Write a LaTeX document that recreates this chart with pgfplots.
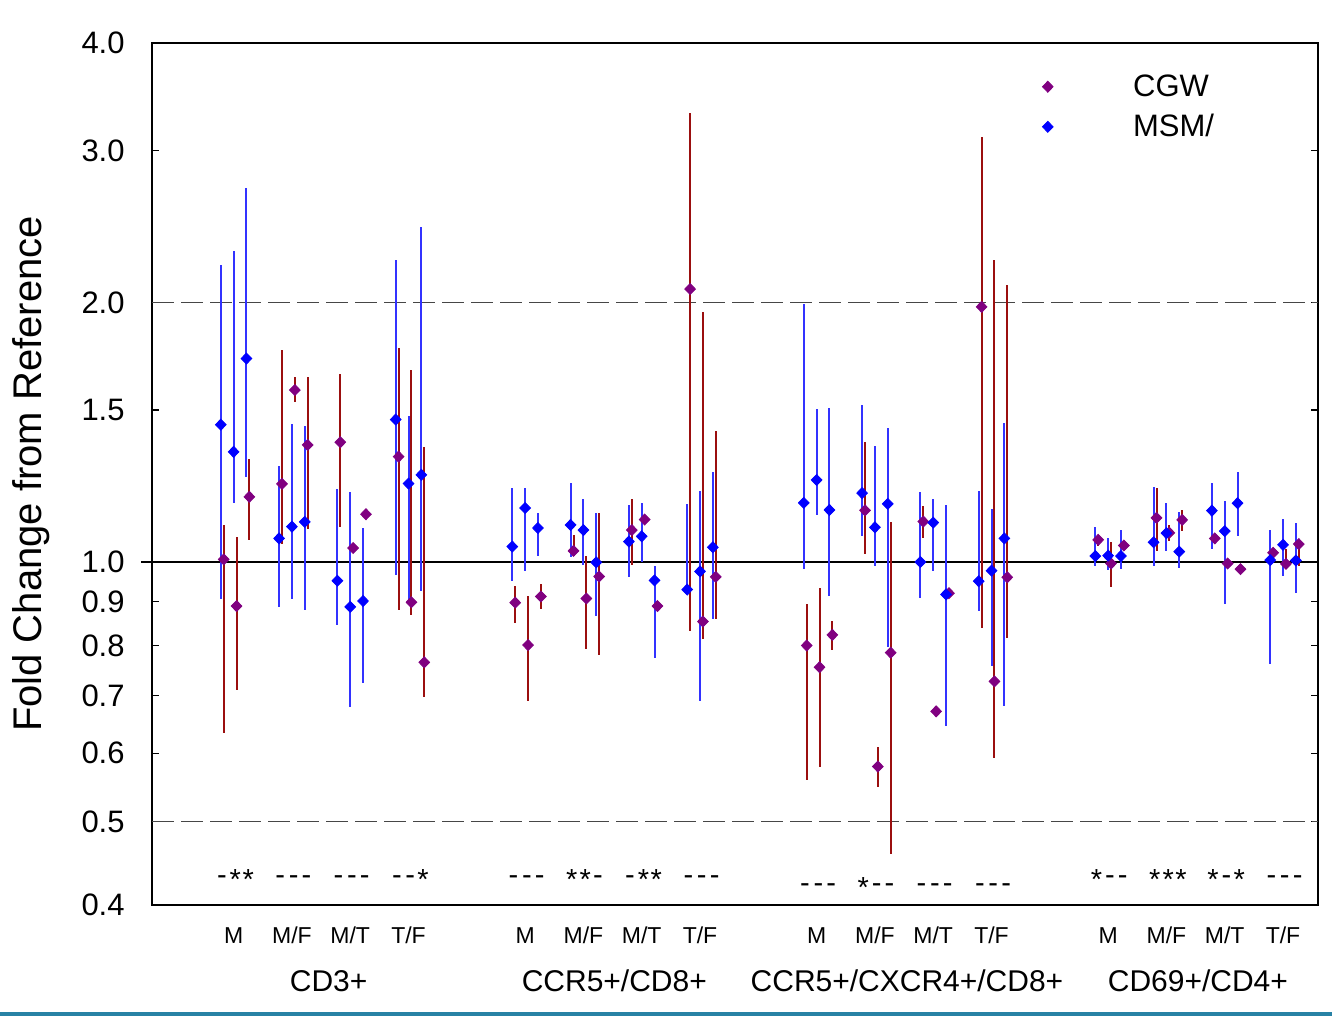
\documentclass[border=0pt]{standalone}
\usepackage{fontspec}
\setmainfont{Liberation Sans}
\usepackage{pgfplots}
\pgfplotsset{compat=1.18}
\usepackage{pgfplotstable}

\definecolor{cgw}{RGB}{128,0,128}
\definecolor{cgwbar}{RGB}{155,15,15}
\definecolor{msm}{RGB}{0,0,255}
\definecolor{msmbar}{RGB}{50,50,255}
\definecolor{refdash}{RGB}{70,70,70}
\definecolor{band}{RGB}{40,130,165}

% x: position (group*5 + subgroup + offset), y: fold change, lo/hi: ends of the bar
\pgfplotstableread{
x     y     lo    hi
-0.17 1.007 0.633 1.105
0.05  0.889 0.710 1.069
0.27  1.190 1.061 1.318
0.83  1.232 1.049 1.760
1.05  1.583 1.532 1.637
1.27  1.367 1.093 1.640
1.83  1.377 1.099 1.652
2.05  1.038 1.038 1.038
2.27  1.136 1.136 1.136
2.83  1.325 0.880 1.771
3.05  0.898 0.868 1.672
3.27  0.765 0.698 1.358
4.83  0.897 0.849 0.938
5.05  0.801 0.689 0.914
5.27  0.912 0.882 0.943
5.83  1.030 1.016 1.074
6.05  0.907 0.792 1.017
6.27  0.962 0.781 1.139
6.83  1.089 0.993 1.184
7.05  1.120 1.120 1.120
7.27  0.889 0.889 0.889
7.83  2.073 0.832 3.320
8.05  0.853 0.814 1.950
8.27  0.961 0.858 1.418
9.83  0.800 0.558 0.895
10.05 0.755 0.578 0.933
10.27 0.823 0.790 0.854
10.83 1.148 1.022 1.378
11.05 0.579 0.548 0.610
11.27 0.785 0.458 1.112
11.83 1.114 1.065 1.162
12.05 0.671 0.671 0.671
12.27 0.920 0.920 0.920
12.83 1.977 0.839 3.109
13.05 0.727 0.593 2.238
13.27 0.960 0.816 2.094
14.83 1.061 1.043 1.073
15.05 0.996 0.936 1.056
15.27 1.045 1.035 1.055
15.83 1.125 1.031 1.218
16.05 1.081 1.059 1.105
16.27 1.119 1.085 1.150
16.83 1.065 1.065 1.065
17.05 0.996 0.996 0.996
17.27 0.981 0.981 0.981
17.83 1.025 1.012 1.037
18.05 0.995 0.981 1.035
18.27 1.049 0.988 1.058
}\cgwdata

\pgfplotstableread{
x     y     lo    hi
-0.22 1.443 0.907 2.208
0.00  1.342 1.172 2.296
0.22  1.722 1.256 2.716
0.78  1.065 0.886 1.291
1.00  1.099 0.907 1.445
1.22  1.113 0.880 1.438
1.78  0.951 0.845 1.215
2.00  0.887 0.679 1.206
2.22  0.901 0.723 1.095
2.78  1.463 0.965 2.243
3.00  1.233 0.903 1.475
3.22  1.262 0.926 2.446
4.78  1.042 0.951 1.217
5.00  1.155 0.975 1.217
5.22  1.095 1.017 1.139
5.78  1.104 1.013 1.234
6.00  1.089 0.991 1.184
6.22  0.999 0.866 1.139
6.78  1.056 0.961 1.164
7.00  1.071 1.000 1.171
7.22  0.952 0.774 0.988
7.78  0.929 0.925 1.168
8.00  0.975 0.689 1.210
8.22  1.040 0.858 1.272
9.78  1.171 0.981 1.994
10.00 1.245 1.134 1.505
10.22 1.149 0.914 1.507
10.78 1.202 1.073 1.522
11.00 1.097 0.990 1.363
11.22 1.168 0.797 1.431
11.78 1.000 0.908 1.207
12.00 1.111 0.977 1.184
12.22 0.917 0.645 1.165
12.78 0.950 0.877 1.209
13.00 0.977 0.758 1.152
13.22 1.065 0.681 1.449
14.78 1.016 0.988 1.097
15.00 1.017 0.979 1.066
15.22 1.016 0.981 1.090
15.78 1.054 0.988 1.221
16.00 1.080 1.029 1.170
16.22 1.028 0.984 1.142
16.78 1.147 1.035 1.235
17.00 1.086 0.894 1.176
17.22 1.170 1.073 1.273
17.78 1.005 0.762 1.089
18.00 1.047 0.962 1.122
18.22 1.004 0.920 1.111
}\msmdata

% significance row under the points
\pgfplotstableread{
x     y      s
-0.20 0.4278 -
0.03  0.4278 *
0.25  0.4278 *
0.80  0.4278 -
1.03  0.4278 -
1.25  0.4278 -
1.80  0.4278 -
2.03  0.4278 -
2.25  0.4278 -
2.80  0.4278 -
3.03  0.4278 -
3.25  0.4278 *
4.80  0.4278 -
5.03  0.4278 -
5.25  0.4278 -
5.80  0.4278 *
6.03  0.4278 *
6.25  0.4278 -
6.80  0.4278 -
7.03  0.4278 *
7.25  0.4278 *
7.80  0.4278 -
8.03  0.4278 -
8.25  0.4278 -
9.80  0.4188 -
10.03 0.4188 -
10.25 0.4188 -
10.80 0.4188 *
11.03 0.4188 -
11.25 0.4188 -
11.80 0.4188 -
12.03 0.4188 -
12.25 0.4188 -
12.80 0.4188 -
13.03 0.4188 -
13.25 0.4188 -
14.80 0.4278 *
15.03 0.4278 -
15.25 0.4278 -
15.80 0.4278 *
16.03 0.4278 *
16.25 0.4278 *
16.80 0.4278 *
17.03 0.4278 -
17.25 0.4278 *
17.80 0.4278 -
18.03 0.4278 -
18.25 0.4278 -
}\sigdata

\pgfplotsset{
  diamondleg/.style={legend image code/.code={\draw[##1] plot coordinates {(0pt,0pt)};}},
}

\begin{document}
\begin{tikzpicture}
\useasboundingbox (0,0) rectangle (666pt,508pt);
\begin{axis}[
    at={(76pt,55.5pt)}, anchor=south west,
    scale only axis, width=583pt, height=431pt,
    clip=false,
    ymode=log,
    xmin=-1.4, xmax=18.6,
    ymin=0.4, ymax=4,
    ytick={0.4,0.5,0.6,0.7,0.8,0.9,1,1.5,2,3,4},
    yticklabels={0.4,0.5,0.6,0.7,0.8,0.9,1.0,1.5,2.0,3.0,4.0},
    yminorticks=false,
    ytick pos=both,
    tick align=inside,
    major tick length=3.4pt,
    ytick style={line width=0.7pt, black},
    yticklabel style={inner sep=0pt, xshift=-13.5pt, font=\fontsize{15.5}{18}\selectfont},
    xtick={0,1,2,3,5,6,7,8,10,11,12,13,15,16,17,18},
    xticklabels={M,M/F,M/T,T/F,M,M/F,M/T,T/F,M,M/F,M/T,T/F,M,M/F,M/T,T/F},
    xtick style={draw=none},
    xticklabel style={anchor=base, inner sep=0pt, yshift=-19pt, font=\fontsize{11.5}{14}\selectfont},
    extra x ticks={1.63,6.53,11.55,16.54},
    extra x tick labels={CD3+,CCR5+/CD8+,CCR5+/CXCR4+/CD8+,CD69+/CD4+},
    extra x tick style={xtick style={draw=none},
        xticklabel style={yshift=-24pt, font=\fontsize{15}{18}\selectfont}},
    axis line style={line width=0.8pt},
    ylabel={Fold Change from Reference},
    ylabel style={at={(axis description cs:-0.1038,0.5)}, anchor=center,
        font=\fontsize{20}{24}\selectfont},
    legend style={draw=none, fill=none, at={(axis description cs:0.7633,0.964)},
        anchor=north west, inner sep=0pt, column sep=40pt, row sep=7.5pt,
        nodes={inner sep=0pt, font=\fontsize{15.5}{18}\selectfont}},
    legend cell align=left,
    error bars/error mark=none,
]

% reference lines
\addplot[forget plot, black, line width=0.6pt, shorten <=-5.5pt] coordinates {(-1.4,1) (18.6,1)};
\addplot[forget plot, refdash, line width=0.9pt, dash pattern=on 11pt off 3.5pt] coordinates {(-1.4,2) (18.6,2)};
\addplot[forget plot, refdash, line width=0.9pt, dash pattern=on 11pt off 3.5pt] coordinates {(-1.4,0.5) (18.6,0.5)};

\addplot[only marks, mark=diamond*, mark size=2.75pt,
    mark options={xscale=1.3, draw=cgw, fill=cgw},
    error bars/.cd, y dir=both, y explicit,
    error bar style={line width=1pt, cgwbar},
    /pgfplots/.cd, diamondleg]
    table[x=x, y=y, y error plus expr=\thisrow{hi}-\thisrow{y},
          y error minus expr=\thisrow{y}-\thisrow{lo}] {\cgwdata};
\addlegendentry{CGW}

\addplot[only marks, mark=diamond*, mark size=2.75pt,
    mark options={xscale=1.3, draw=msm, fill=msm},
    error bars/.cd, y dir=both, y explicit,
    error bar style={line width=1pt, msmbar},
    /pgfplots/.cd, diamondleg]
    table[x=x, y=y, y error plus expr=\thisrow{hi}-\thisrow{y},
          y error minus expr=\thisrow{y}-\thisrow{lo}] {\msmdata};
\addlegendentry{MSM/}

\addplot[forget plot, only marks, mark=none, point meta=explicit symbolic,
    nodes near coords,
    every node near coord/.append style={anchor=center, inner sep=0pt,
        font=\fontsize{14.5}{16}\selectfont}]
    table[x=x, y=y, meta=s] {\sigdata};
\end{axis}
\fill[band] (0,0) rectangle (666pt,2.2pt);
\end{tikzpicture}
\end{document}
